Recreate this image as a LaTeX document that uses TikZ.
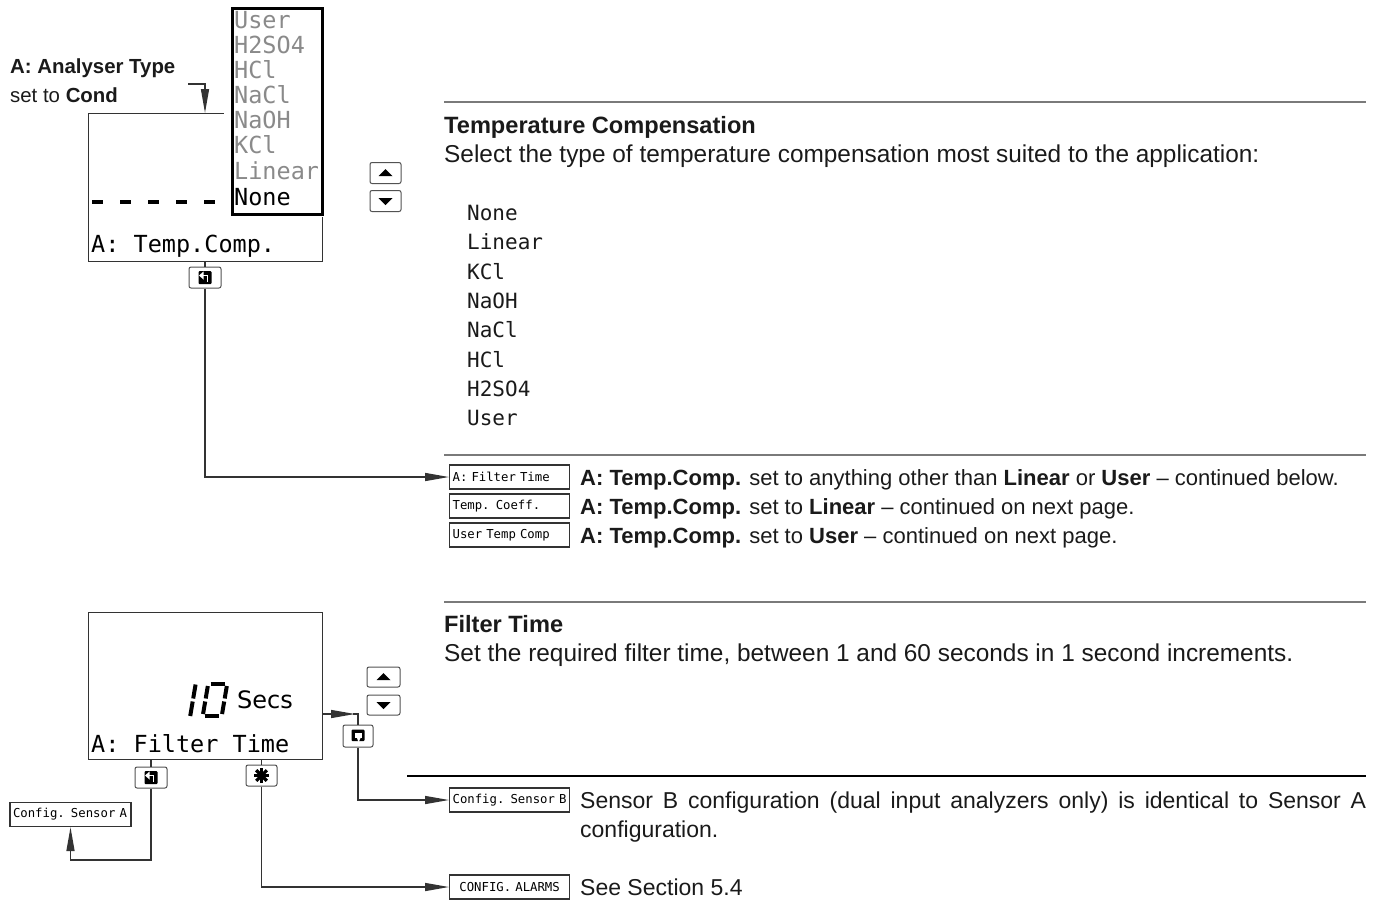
\documentclass[tikz,border=0pt]{standalone}
\usepackage{fontspec}
\setmainfont{Liberation Sans}
\newfontfamily\lcd{DejaVu Sans Mono}
\newfontfamily\dvs{DejaVu Sans}
\usetikzlibrary{arrows.meta,calc}
\definecolor{ln}{HTML}{333333}
\definecolor{gr}{HTML}{8A8A8A}
\definecolor{rl}{HTML}{7A7A7A}
\definecolor{tx}{HTML}{1A1A1A}
\tikzset{
  upicon/.pic={\fill (-7,3) -- (7,3) -- (0,-4) -- cycle;},
  downicon/.pic={\fill (-7,-3) -- (7,-3) -- (0,4) -- cycle;},
  entericon/.pic={
    \fill[black, rounded corners=1pt] (-6.5,-6.5) rectangle (6.5,6.5);
    \draw[white, line width=1.8pt] (2.5,4.5) -- (2.5,-2) -- (-2,-2);
    \fill[white] (-6,-2) -- (-1.5,-6) -- (-1.5,2) -- cycle;
  },
  reticon/.pic={
    \fill[black, rounded corners=1pt] (-6.5,-6.5) rectangle (6.5,5);
    \fill[white] (-3.5,-3.5) rectangle (3.5,2);
    \fill[white] (-1,2) -- (2.5,2) -- (0.5,6.5) -- cycle;
  },
  staricon/.pic={
    \foreach \a in {0,45,90,135}{\draw[line width=3.2pt] (\a:7.5) -- (\a+180:7.5);}
  }
}
\begin{document}
\begin{tikzpicture}[x=1pt,y=-1pt,
  conn/.style={draw=ln, line width=1.4pt},
  arr/.style={conn, -{Triangle[length=24pt,width=8pt]}},
  btn/.style={draw=ln!85, line width=1pt, rounded corners=2pt, fill=white, minimum width=31pt, minimum height=21pt, inner sep=0pt},
  lcdbox/.style={draw=ln, line width=1.4pt, inner sep=0pt, anchor=north west},
  tag/.style={draw=ln, line width=1.2pt, fill=white, minimum height=24pt, text width=114pt, inner xsep=3pt, inner ysep=0pt, align=left, font=\lcd\fontsize{12.3}{12}\selectfont, anchor=west},
  lcdtxt/.style={font=\lcd\fontsize{23.5}{25}\selectfont, inner sep=0pt, anchor=base west},
  listtxt/.style={font=\lcd\fontsize{21}{25}\selectfont, inner sep=0pt, anchor=base west, text=tx},
  head/.style={font=\fontsize{23.6}{29}\selectfont\bfseries, inner sep=0pt, anchor=base west, text=tx},
  body/.style={font=\fontsize{24.4}{29}\selectfont, inner sep=0pt, anchor=base west, text=tx},
  side/.style={font=\fontsize{22}{29}\selectfont, inner sep=0pt, anchor=base west, text=tx},
  lbl/.style={font=\fontsize{20.4}{24}\selectfont, inner sep=0pt, anchor=base west, text=tx},
  hrule/.style={draw=rl, line width=1.6pt}
]
\useasboundingbox (0,0) rectangle (1380,903);

% ---------- top display ----------
\node[lcdbox, minimum width=234pt, minimum height=148pt] (disp1) at (88,113) {};
\draw[line width=4pt, dash pattern=on 11pt off 17pt] (92,202) -- (224,202);
\node[lcdtxt] (t1) at (91,252) {A: Temp.Comp.};
\fill[white] (224,0) rectangle (328,217);
\node[draw, line width=3pt, fill=white, anchor=north west, minimum width=90pt, minimum height=206pt, inner sep=0pt] (dd) at (231,7) {};
\node[lcdtxt, text=gr] (o1) at (234,28) {User};
\node[lcdtxt, text=gr] (o2) at (234,53) {H2SO4};
\node[lcdtxt, text=gr] (o3) at (234,78) {HCl};
\node[lcdtxt, text=gr] (o4) at (234,103) {NaCl};
\node[lcdtxt, text=gr] (o5) at (234,128) {NaOH};
\node[lcdtxt, text=gr] (o6) at (234,153) {KCl};
\node[lcdtxt, text=gr] (o7) at (234,179) {Linear};
\node[lcdtxt, text=black] (o8) at (234,205) {None};

\node[lbl] (lab1) at (10,73) {\textbf{A: Analyser Type}};
\node[lbl] (lab2) at (10,102) {set to \textbf{Cond}};
\coordinate (labA) at (188,84);
\coordinate (dtop) at (205,113);
\draw[arr] (labA) -| (dtop);

\node[btn] (up1) at (385.5,173) {};
\node[btn] (dn1) at (385.5,201) {};
\pic at (up1.center) {upicon};
\pic at (dn1.center) {downicon};

\node[btn, minimum width=32pt] (ent1) at (205,277.5) {};
\pic at (ent1.center) {entericon};
\draw[conn] (disp1.south -| ent1) -- (ent1.north);

% ---------- temperature compensation text ----------
\draw[hrule] (444,102) -- (1366,102);
\node[head] (h1) at (444,133) {Temperature Compensation};
\node[body] (b1) at (444,162) {Select the type of temperature compensation most suited to the application:};
\node[listtxt] (l1) at (467,220) {None};
\node[listtxt] (l2) at (467,249) {Linear};
\node[listtxt] (l3) at (467,279) {KCl};
\node[listtxt] (l4) at (467,308) {NaOH};
\node[listtxt] (l5) at (467,337) {NaCl};
\node[listtxt] (l6) at (467,367) {HCl};
\node[listtxt] (l7) at (467,396) {H2SO4};
\node[listtxt] (l8) at (467,425) {User};

\draw[hrule] (444,455) -- (1366,455);
\node[tag] (ft) at (449,477) {A: Filter Time};
\node[tag] (tc) at (449,506) {Temp. Coeff.};
\node[tag] (utc) at (449,535) {User Temp Comp};
\node[side] (r1) at (580,485) {\textbf{A: Temp.Comp.} set to anything other than \textbf{Linear} or \textbf{User} – continued below.};
\node[side] (r2) at (580,514) {\textbf{A: Temp.Comp.} set to \textbf{Linear} – continued on next page.};
\node[side] (r3) at (580,543) {\textbf{A: Temp.Comp.} set to \textbf{User} – continued on next page.};
\draw[arr] (ent1.south) |- (ft.west);

% ---------- filter time ----------
\draw[hrule] (444,602) -- (1366,602);
\node[head] (h2) at (444,632) {Filter Time};
\node[body] (b2) at (444,661) {Set the required filter time, between 1 and 60 seconds in 1 second increments.};

\node[lcdbox, minimum width=234pt, minimum height=147pt] (disp2) at (88,612) {};
\node[lcdtxt] (t2) at (91,752) {A: Filter Time};
\node[font=\dvs\fontsize{24}{24}\selectfont, inner sep=0pt, anchor=base west] (secs) at (237,708) {Secs};
\begin{scope}[shift={(190,682)}, xslant=0.17, line width=4pt]
  % digit 1
  \draw (6,2.5) -- (6,16.5);
  \draw (6,19.5) -- (6,34);
  % digit 0
  \draw (21,1.8) -- (35,1.8);
  \draw (21,34.2) -- (35,34.2);
  \draw (18.5,4) -- (18.5,16.5);
  \draw (18.5,19.5) -- (18.5,32);
  \draw (37.5,4) -- (37.5,16.5);
  \draw (37.5,19.5) -- (37.5,32);
\end{scope}

\node[btn, minimum width=33pt, minimum height=20pt] (up2) at (383.5,677) {};
\node[btn, minimum width=33pt, minimum height=20pt] (dn2) at (383.5,705) {};
\pic at (up2.center) {upicon};
\pic at (dn2.center) {downicon};

\node[btn, minimum width=30pt, minimum height=22pt] (ret) at (358,736) {};
\pic at (ret.center) {reticon};
\node[btn, minimum width=32pt] (ent2) at (151,777.5) {};
\pic at (ent2.center) {entericon};
\node[btn, minimum width=31pt] (star) at (261.5,775.5) {};
\pic at (star.center) {staricon};

\draw[conn] (disp2.south -| ent2) -- (ent2.north);
\draw[conn] (disp2.south -| star) -- (star.north);

\coordinate (d2e) at (322,714);
\coordinate (d2c) at (355,714);
\draw[arr] (d2e) -- (d2c);
\draw[conn] (353,714) -| (ret.north);

\draw[line width=1.3pt, draw=black] (407,776) -- (1366,776);

\node[tag] (cfgB) at (449,800) {Config. Sensor B};
\node[tag, anchor=center, text width=115pt] (cfgA) at (70.5,814.5) {Config. Sensor A};
\node[tag, align=center] (alarm) at (449,887) {CONFIG. ALARMS};

\draw[arr] (ret.south) |- (cfgB.west);
\coordinate (cA) at (70.5,860);
\draw[arr] (ent2.south) |- (cA) -- (cfgA.south);
\draw[arr] (star.south) |- (alarm.west);

\node[side, font=\fontsize{23}{29}\selectfont] (s1) at (580,808) {\makebox[786pt][s]{Sensor B configuration (dual input analyzers only) is identical to Sensor A}};
\node[side, font=\fontsize{23}{29}\selectfont] (s2) at (580,837) {configuration.};
\node[side, font=\fontsize{23}{29}\selectfont] (s3) at (580,895) {See Section 5.4};
\end{tikzpicture}
\end{document}
